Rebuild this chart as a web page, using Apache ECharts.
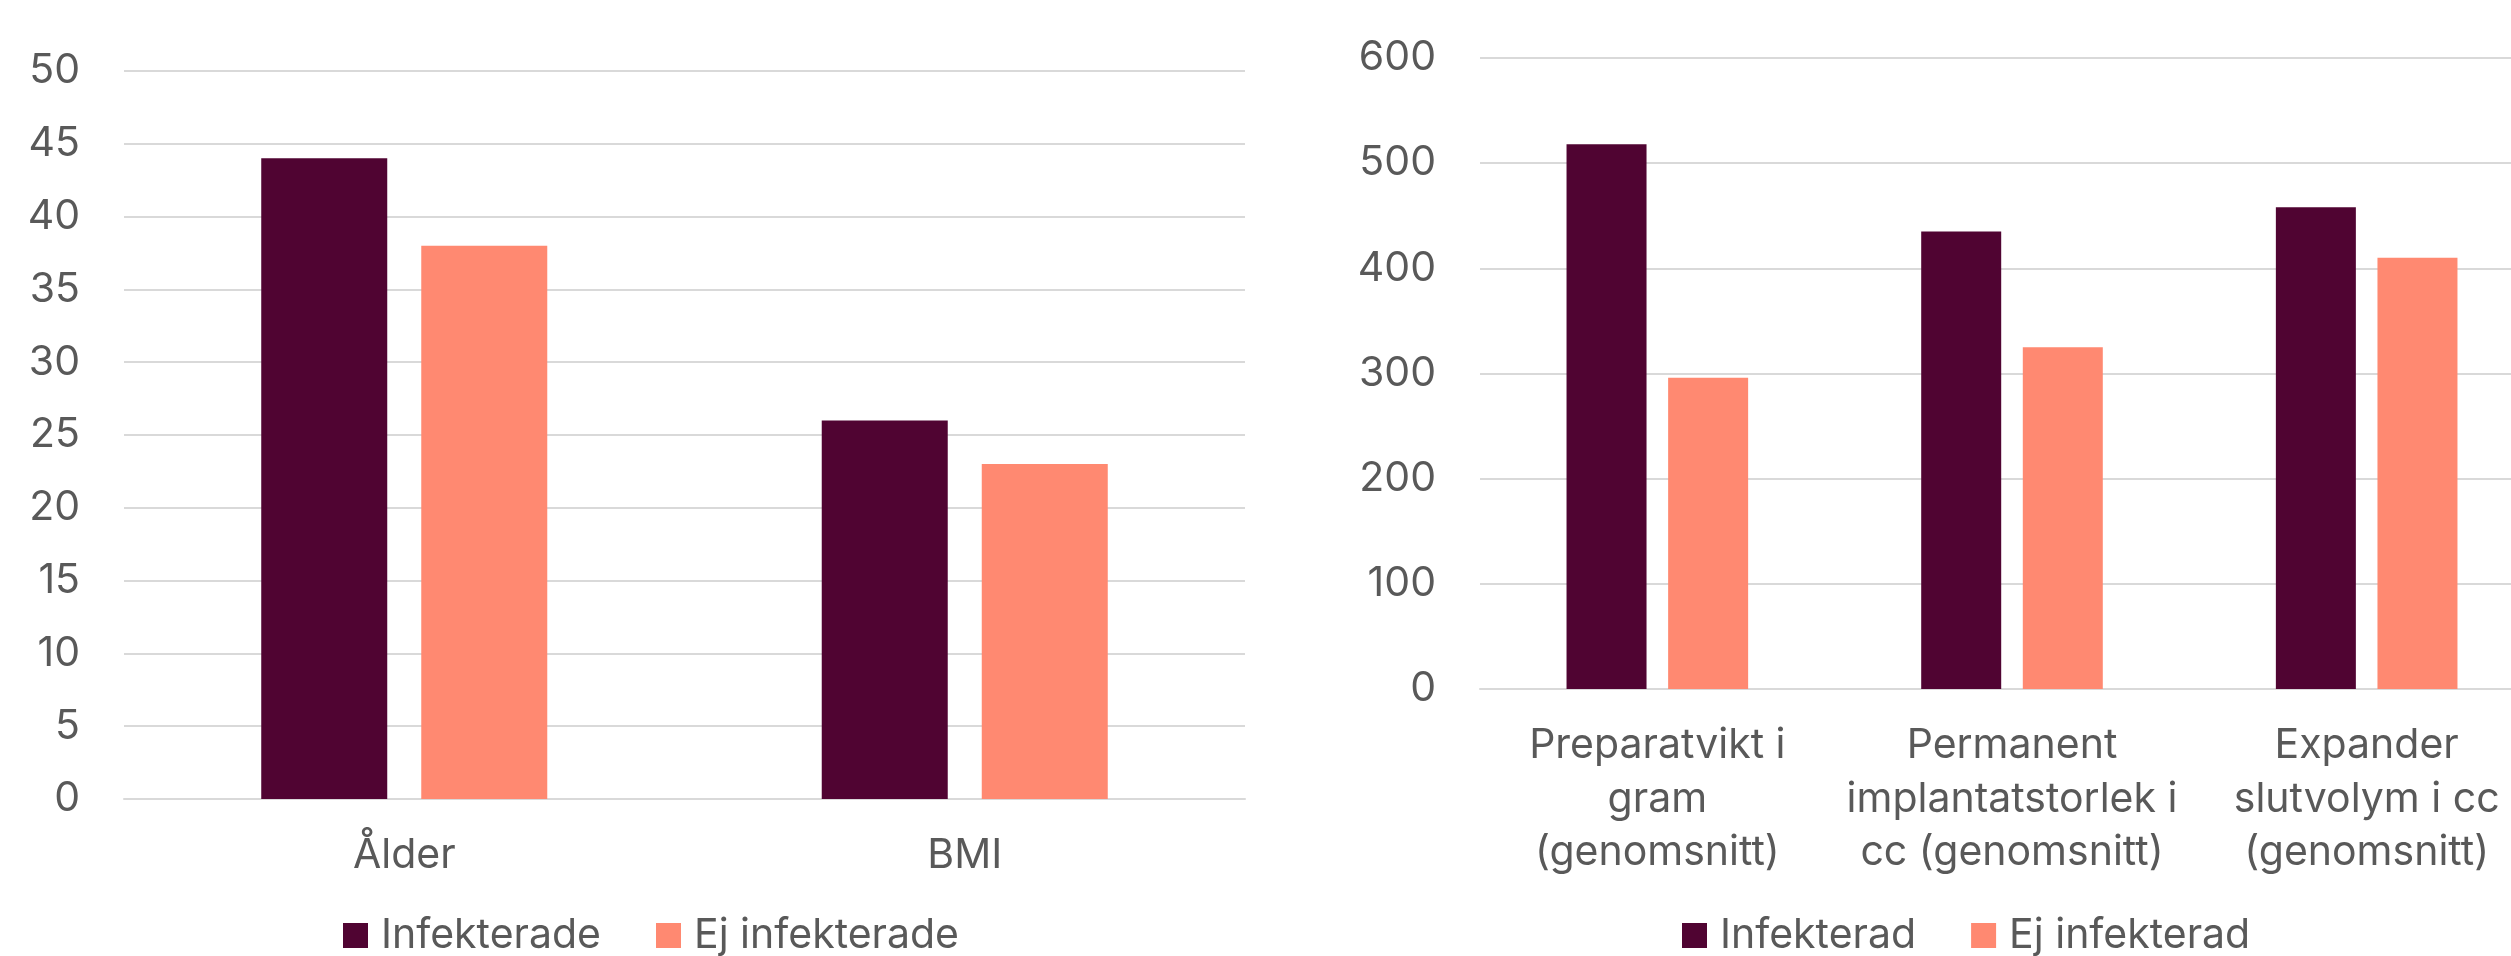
<!DOCTYPE html>
<html>
<head>
<meta charset="utf-8">
<script src="https://cdn.jsdelivr.net/npm/echarts@6/dist/echarts.min.js"></script>
<style>
  html, body { margin: 0; padding: 0; background: #ffffff; }
  #chart { width: 2511px; height: 956px; }
</style>
</head>
<body>
<div id="chart"></div>
<script>
// Left panel: age and BMI
const leftCategories = ['Ålder', 'BMI'];
const leftInfected = [44, 26];
const leftNotInfected = [38, 23];
const leftNames = ['Infekterade', 'Ej infekterade'];

// Right panel: specimen weight, implant size, expander volume
const rightCategories = [
  'Preparatvikt i\ngram\n(genomsnitt)',
  'Permanent\nimplantatstorlek i\ncc (genomsnitt)',
  'Expander\nslutvolym i cc\n(genomsnitt)'
];
const rightInfected = [518, 435, 458];
const rightNotInfected = [296, 325, 410];
const rightNames = ['Infekterad', 'Ej infekterad'];

const DARK = '#500432';
const SALMON = '#FF8971';
const TEXT = '#595959';
const GRID_LINE = '#D9D9D9';
const FONT = 'Inter, "Open Sans", sans-serif';

const chart = echarts.init(document.getElementById('chart'));

function xAxis(gridIndex, data) {
  return {
    type: 'category', gridIndex, data,
    axisLine: { show: true, lineStyle: { color: GRID_LINE, width: 2 } },
    axisTick: { show: false },
    axisLabel: { color: TEXT, fontSize: 41, fontFamily: FONT, lineHeight: 53.5, margin: 30, interval: 0 }
  };
}
function yAxis(gridIndex, max, interval) {
  return {
    type: 'value', gridIndex, min: 0, max, interval,
    axisLine: { show: false }, axisTick: { show: false },
    splitLine: { lineStyle: { color: GRID_LINE, width: 2 } },
    axisLabel: { color: TEXT, fontSize: 41, fontFamily: FONT, margin: 44 }
  };
}
function legend(left, names) {
  return {
    left, top: 910, data: names,
    icon: 'rect', itemWidth: 25, itemHeight: 25, itemGap: 55,
    textStyle: { color: TEXT, fontSize: 41, fontFamily: FONT, padding: [0, 0, 0, 8] }
  };
}

chart.setOption({
  animation: false,
  backgroundColor: '#ffffff',
  grid: [
    { left: 124, width: 1121, top: 71, height: 728, outerBoundsMode: 'none' },
    // the third category runs past the right edge of the canvas
    { left: 1480, width: 1064, top: 58, height: 631, outerBoundsMode: 'none' }
  ],
  legend: [legend(338, leftNames), legend(1677, rightNames)],
  xAxis: [xAxis(0, leftCategories), xAxis(1, rightCategories)],
  yAxis: [yAxis(0, 50, 5), yAxis(1, 600, 100)],
  series: [
    { name: leftNames[0], type: 'bar', xAxisIndex: 0, yAxisIndex: 0, data: leftInfected,
      itemStyle: { color: DARK }, barWidth: 126, barGap: '27%' },
    { name: leftNames[1], type: 'bar', xAxisIndex: 0, yAxisIndex: 0, data: leftNotInfected,
      itemStyle: { color: SALMON }, barWidth: 126, barGap: '27%' },
    { name: rightNames[0], type: 'bar', xAxisIndex: 1, yAxisIndex: 1, data: rightInfected,
      itemStyle: { color: DARK }, barWidth: 80, barGap: '27%' },
    { name: rightNames[1], type: 'bar', xAxisIndex: 1, yAxisIndex: 1, data: rightNotInfected,
      itemStyle: { color: SALMON }, barWidth: 80, barGap: '27%' }
  ]
});
</script>
</body>
</html>
